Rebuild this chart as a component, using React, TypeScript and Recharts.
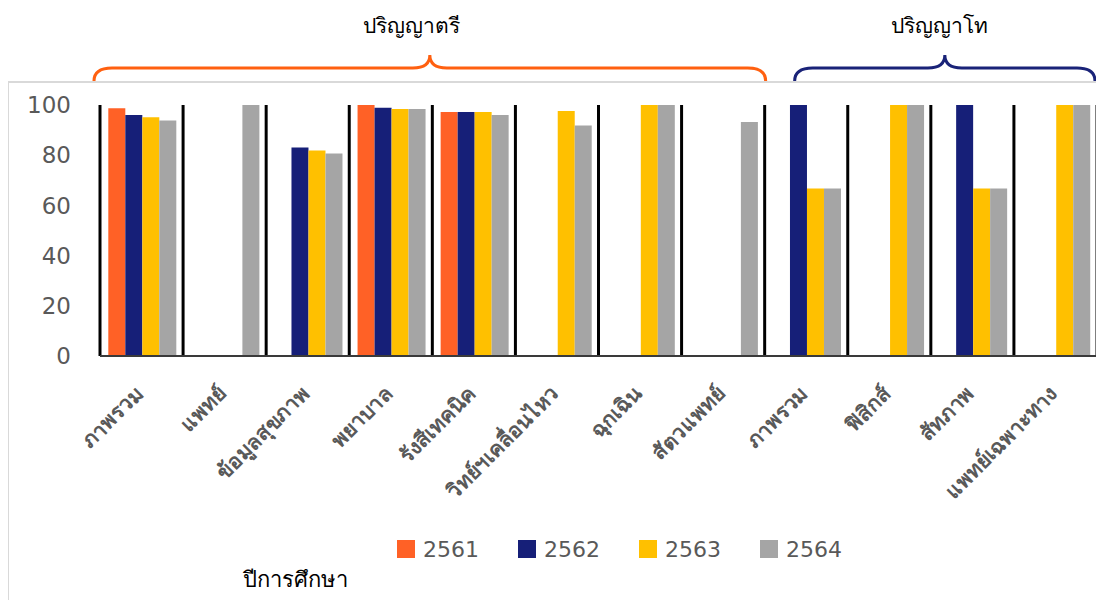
import React from "react";
import { BarChart, Bar, XAxis, YAxis, ReferenceLine, ReferenceArea, Legend } from "recharts";

const categories = [
  "ภาพรวม",
  "แพทย์",
  "ข้อมูลสุขภาพ",
  "พยาบาล",
  "รังสีเทคนิค",
  "วิทย์ฯเคลื่อนไหว",
  "ฉุกเฉิน",
  "สัตวแพทย์",
  "ภาพรวม",
  "ฟิสิกส์",
  "สัทภาพ",
  "แพทย์เฉพาะทาง",
];

const years = ["2561", "2562", "2563", "2564"];

const values2561 = [98.7, null, null, 100, 97.2, null, null, null, null, null, null, null];
const values2562 = [96.0, null, 83.1, 98.9, 97.2, null, null, null, 100, null, 100, null];
const values2563 = [95.1, null, 81.9, 98.4, 97.2, 97.6, 100, null, 66.7, 100, 66.7, 100];
const values2564 = [93.8, 100, 80.7, 98.4, 96.0, 91.8, 100, 93.2, 66.7, 100, 66.7, 100];

const yTicks = [0, 20, 40, 60, 80, 100];

// degree levels spanning category index ranges
const levelNames = ["ปริญญาตรี", "ปริญญาโท"];
const levelStarts = [0, 8];
const levelEnds = [8, 12];

const seriesValues = [values2561, values2562, values2563, values2564];
const seriesColors = ["#FF6126", "#161F78", "#FFC000", "#A5A5A5"];

// pos = middle of each category slot on a 0..n number scale (used for separators / braces)
const data = categories.map((name, i) => {
  const row: Record<string, string | number | null> = { name, pos: i + 0.5 };
  years.forEach((y, s) => (row[y] = seriesValues[s][i]));
  return row;
});

const TEXT_GRAY = "#595959";
const FONT = "'Noto Sans', 'DejaVu Sans', sans-serif";
const NUM_FONT = "'DejaVu Sans', sans-serif";

// brace look per level: colour and how far the ends sit from the category boundaries
const braceStyle = [
  { color: "#FF6010", left: -6, right: 1, titleDx: -18 },
  { color: "#1A2378", left: 30, right: -2, titleDx: -5 },
];

const CategoryTick = (props: any) => {
  const { x, y, payload } = props;
  const ax = x + 3;
  const ay = y + 39;
  return (
    <text
      x={ax}
      y={ay}
      transform={`rotate(-45, ${ax}, ${ay})`}
      textAnchor="end"
      fill={TEXT_GRAY}
      fontSize={21}
      fontWeight={600}
      fontFamily={FONT}
    >
      {payload.value}
    </text>
  );
};

const makeBrace = (idx: number) => (props: any) => {
  const { x, y, width } = props;
  const st = braceStyle[idx];
  const L = x + st.left;
  const R = x + width + st.right;
  const P = (L + R) / 2;
  const yB = y - 24;
  const yH = y - 37;
  const yP = y - 50;
  const r = 18;
  const s = 17;
  const d = `M${L},${yB} Q${L},${yH} ${L + r},${yH} L${P - s},${yH} Q${P},${yH} ${P},${yP} Q${P},${yH} ${P + s},${yH} L${R - r},${yH} Q${R},${yH} ${R},${yB}`;
  return (
    <g>
      <path d={d} fill="none" stroke={st.color} strokeWidth={3} />
      <text
        x={P + st.titleDx}
        y={y - 80}
        textAnchor="middle"
        dominantBaseline="central"
        fontSize={21}
        fill="#000"
        fontFamily={FONT}
      >
        {levelNames[idx]}
      </text>
    </g>
  );
};

const LegendContent = (props: any) => {
  const { payload } = props;
  return (
    <div style={{ display: "flex", alignItems: "center", height: 30 }}>
      {(payload || []).map((entry: any) => (
        <div key={entry.value} style={{ display: "flex", alignItems: "center", width: 121 }}>
          <span style={{ width: 18, height: 18, background: entry.color, marginRight: 8, display: "inline-block" }} />
          <span style={{ color: TEXT_GRAY, fontSize: 22, fontFamily: NUM_FONT }}>{entry.value}</span>
        </div>
      ))}
    </div>
  );
};

export default function App() {
  return (
    <div style={{ position: "relative", width: 1104, height: 608, margin: -8, overflow: "hidden", background: "#fff" }}>
      <div
        style={{
          position: "absolute",
          left: 7,
          top: 81,
          width: 1200,
          height: 700,
          border: "2px solid #D9D9D9",
        }}
      />
      <div style={{ position: "absolute", left: 0, top: 0 }}>
        <BarChart
          width={1104}
          height={608}
          data={data}
          margin={{ top: 105, right: 7, bottom: 0, left: 0 }}
          barCategoryGap="10%"
          barGap={0}
        >
          <XAxis
            dataKey="name"
            interval={0}
            height={252}
            tickLine={false}
            tickSize={0}
            tickMargin={0}
            axisLine={{ stroke: "#3A3A3A", strokeWidth: 2 }}
            tick={<CategoryTick />}
          />
          <XAxis
            xAxisId="sep"
            dataKey="pos"
            type="number"
            scale="linear"
            domain={[0, categories.length]}
            allowDataOverflow
            height={0}
            hide
          />
          <YAxis
            domain={[0, 100]}
            ticks={yTicks}
            width={100}
            axisLine={false}
            tickLine={false}
            tickSize={0}
            tickMargin={29}
            tick={{ fill: TEXT_GRAY, fontSize: 23, fontFamily: NUM_FONT }}
          />
          {years.map((y, s) => (
            <Bar key={y} dataKey={y} name={y} fill={seriesColors[s]} isAnimationActive={false} />
          ))}
          {Array.from({ length: categories.length + 1 }, (_, i) => (
            <ReferenceLine key={i} xAxisId="sep" x={i} stroke="#000" strokeWidth={3} ifOverflow="visible" />
          ))}
          {levelNames.map((n, i) => (
            <ReferenceArea
              key={n}
              xAxisId="sep"
              x1={levelStarts[i]}
              x2={levelEnds[i]}
              ifOverflow="visible"
              shape={makeBrace(i)}
            />
          ))}
          <Legend
            layout="horizontal"
            verticalAlign="middle"
            align="center"
            content={<LegendContent />}
            wrapperStyle={{ left: 397, top: 534, width: "auto", height: "auto" }}
          />
        </BarChart>
      </div>
      <div
        style={{
          position: "absolute",
          left: 243,
          top: 564,
          fontSize: 22,
          fontFamily: FONT,
          color: "#000",
          lineHeight: "28px",
        }}
      >
        ปีการศึกษา
      </div>
    </div>
  );
}
